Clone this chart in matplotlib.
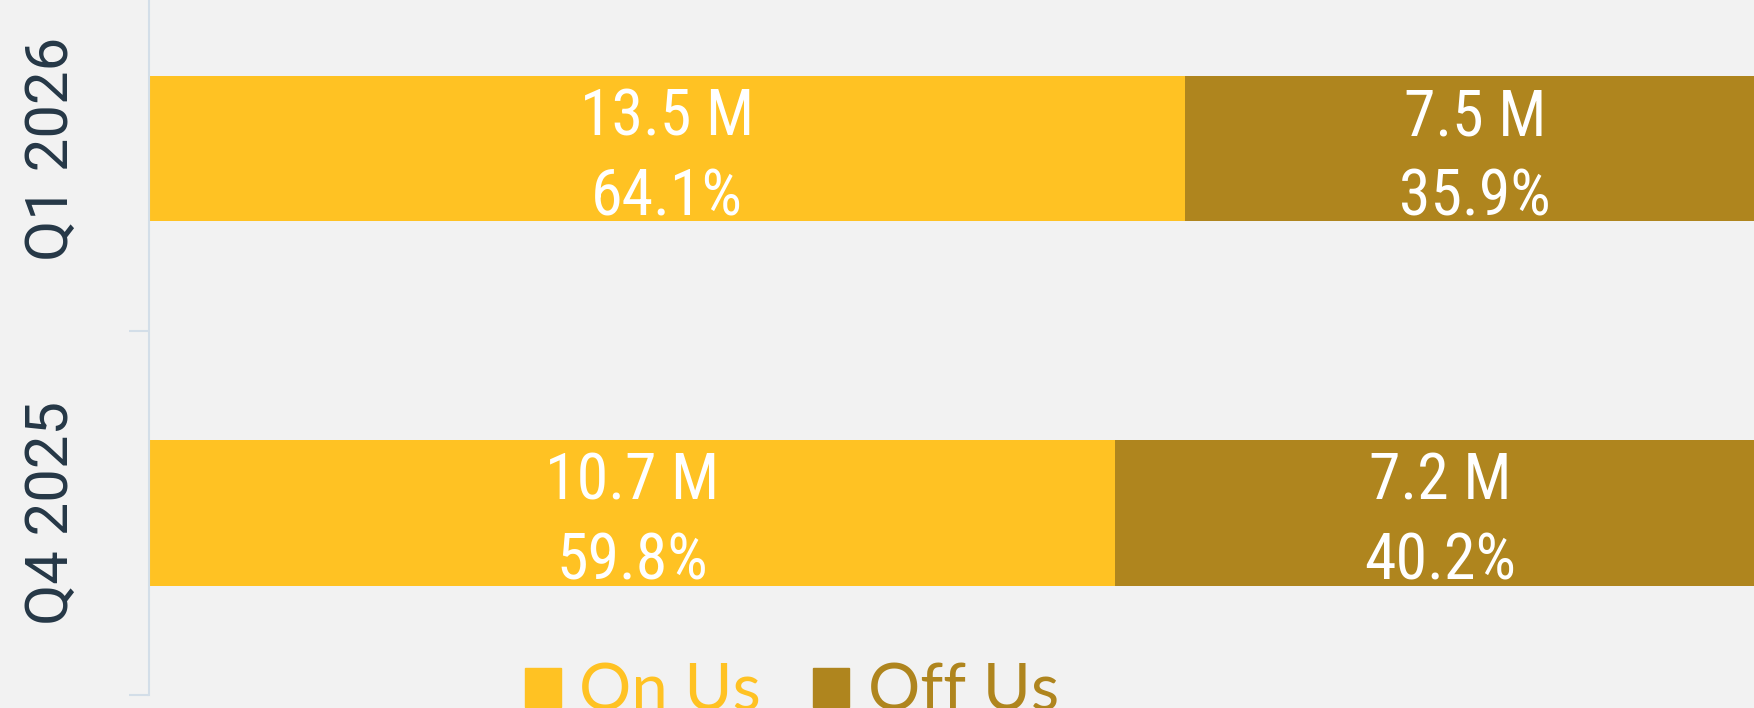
import matplotlib
matplotlib.use("Agg")
import matplotlib.pyplot as plt
import matplotlib.patches as mpatches

# data (bottom to top)
quarters   = ["Q4 2025", "Q1 2026"]
on_us_m    = [10.7, 13.5]
off_us_m   = [7.2, 7.5]
on_us_pct  = [59.8, 64.1]
off_us_pct = [40.2, 35.9]
series     = ["On Us", "Off Us"]

ON_COLOR  = "#FFC223"
OFF_COLOR = "#AF851E"
BG        = "#F2F2F2"
NAVY      = "#253746"
AXIS_GREY = "#D3DEE8"

W, H = 1754, 708
fig = plt.figure(figsize=(W / 100, H / 100), dpi=100, facecolor=BG)
# axes runs a bit past the right and top edges, as in the cropped screenshot
ax = fig.add_axes([149 / W, 13 / H, 1616 / W, 728.5 / H], facecolor=BG)

ypos = list(range(len(quarters)))
ax.barh(ypos, on_us_pct, height=0.4, color=ON_COLOR, linewidth=0)
ax.barh(ypos, off_us_pct, left=on_us_pct, height=0.4, color=OFF_COLOR, linewidth=0)

ax.set_xlim(0, 100)
ax.set_ylim(-0.5, len(quarters) - 0.5)

# narrow face first if the box has one, Roboto otherwise
label_font = ["DejaVu Sans Condensed", "Noto Sans Condensed", "Roboto Condensed",
              "Liberation Sans Narrow", "Roboto"]
for i in ypos:
    segs = [(0, on_us_pct[i], on_us_m[i]), (on_us_pct[i], off_us_pct[i], off_us_m[i])]
    for left, width, val in segs:
        cx = left + width / 2
        ax.annotate(f"{val:.1f} M", (cx, i), xytext=(0, 13.5), textcoords="offset pixels",
                    ha="center", va="baseline", color="white", fontsize=46,
                    family=label_font, fontstretch="condensed")
        ax.annotate(f"{width:.1f}%", (cx, i), xytext=(0, -66.5), textcoords="offset pixels",
                    ha="center", va="baseline", color="white", fontsize=46,
                    family=label_font, fontstretch="condensed")

ax.set_yticks(ypos)
ax.set_yticklabels(quarters, rotation=90, va="center", fontsize=43, color=NAVY, family="Roboto")
ax.set_yticks([p - 0.5 for p in ypos] + [ypos[-1] + 0.5], minor=True)
ax.tick_params(axis="y", which="major", length=0, pad=50)
ax.tick_params(axis="y", which="minor", length=14.4, width=1.5, color=AXIS_GREY)
ax.xaxis.set_visible(False)

for side in ["top", "right", "bottom"]:
    ax.spines[side].set_visible(False)
ax.spines["left"].set_color(AXIS_GREY)
ax.spines["left"].set_linewidth(1.5)

handles = [mpatches.Patch(color=ON_COLOR, label=series[0]),
           mpatches.Patch(color=OFF_COLOR, label=series[1])]
fig.legend(handles=handles, loc="center", bbox_to_anchor=(792 / W, 1 - 692 / H),
           ncol=2, frameon=False, prop={"family": "Lato", "size": 47},
           labelcolor=[ON_COLOR, OFF_COLOR], handlelength=0.55, handleheight=0.55,
           handletextpad=0.28, columnspacing=0.8, borderpad=0, borderaxespad=0)

fig.savefig("out.png", dpi=100, facecolor=BG)
